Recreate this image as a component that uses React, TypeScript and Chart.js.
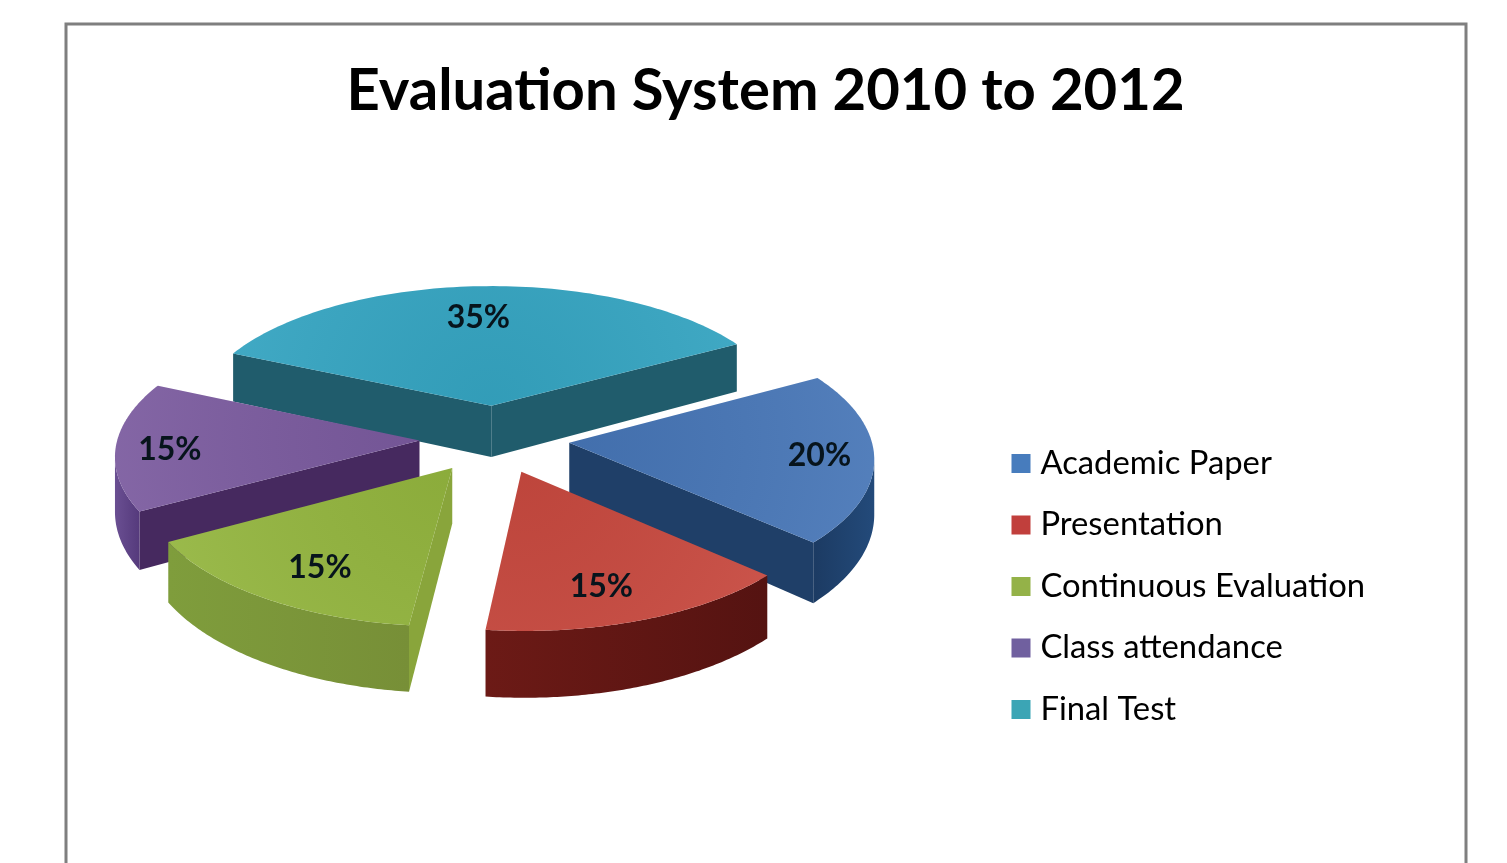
import { useEffect, useRef } from "react";
import { Chart, registerables } from "chart.js";

Chart.register(...registerables);

const titleText = "Evaluation System 2010 to 2012";
const categories = ["Academic Paper", "Presentation", "Continuous Evaluation", "Class attendance", "Final Test"];
const shares = [20, 15, 15, 15, 35];

const topColors = ["#4675b6", "#c8493f", "#93b53e", "#7a5a9e", "#35a5c2"];
const cutFaceColors = ["#1f3f68", "#6a1a15", "#89a53b", "#46295f", "#205c6c"];
const rimLeftColors = ["#1c3b63", "#6c1a16", "#7f9d3c", "#6a4f92", "#205c6c"];
const rimRightColors = ["#234a7a", "#551311", "#778f37", "#553a7c", "#205c6c"];
const legendColors = ["#477cbd", "#c13f3c", "#94b248", "#70609f", "#3ba5b5"];
const labelRadius = [0.822, 0.77, 0.757, 0.822, 0.735];
const labelTurn = [-1, 2.8, -2.2, -1.3, -1.2];

// Tilted-pie view settings
const centerX = 494.5;
const centerY = 439;
const squash = 0.4544;
const perspective = 0.000319;
const thickness = 53.5;
const FRAME = { left: 66, top: 24, right: 1466, bottom: 900 };

type Pt = { x: number; y: number };

function project(wx: number, wy: number, drop: number): Pt {
  const s = 1 / (1 - perspective * wy);
  return {
    x: centerX + wx * s,
    y: centerY + squash * wy * s + drop * thickness * Math.pow(s, 1.76),
  };
}

function fillPoly(ctx: CanvasRenderingContext2D, pts: Pt[], color: any) {
  ctx.beginPath();
  pts.forEach((p, i) => (i ? ctx.lineTo(p.x, p.y) : ctx.moveTo(p.x, p.y)));
  ctx.closePath();
  ctx.fillStyle = color;
  ctx.fill();
}

const tiltedPie = {
  id: "tiltedPie",
  beforeDraw(chart: any) {
    const { ctx } = chart;
    ctx.save();
    ctx.fillStyle = "#ffffff";
    ctx.fillRect(0, 0, chart.width, chart.height);
    ctx.strokeStyle = "#7f7f7f";
    ctx.lineWidth = 3;
    ctx.strokeRect(FRAME.left, FRAME.top, FRAME.right - FRAME.left, FRAME.bottom - FRAME.top);
    ctx.restore();
  },
  afterLayout(chart: any) {
    // The key column sits apart from the plot, low on the right
    const legend = chart.legend;
    const pad = legend.options.labels.padding;
    legend.left = 1018 - pad;
    legend.right = legend.left + legend.width;
    legend.top = 447 - pad;
    legend.bottom = legend.top + legend.height;
  },
  beforeDatasetDraw(chart: any, args: any) {
    const { ctx } = chart;
    const arcs = args.meta.data;
    const slices = arcs.map((arc: any, index: number) => {
      const mid = (arc.startAngle + arc.endAngle) / 2;
      const off = arc.options.offset;
      return { index, arc, mid, ox: Math.cos(mid) * off, oy: Math.sin(mid) * off };
    });
    slices.sort((a: any, b: any) => a.oy - b.oy);

    ctx.save();
    for (const s of slices) {
      const { arc, ox, oy, index } = s;
      const R = arc.outerRadius;
      const steps = 90;
      const ring: Array<[number, number]> = [];
      for (let i = 0; i <= steps; i++) {
        const a = arc.startAngle + ((arc.endAngle - arc.startAngle) * i) / steps;
        ring.push([ox + R * Math.cos(a), oy + R * Math.sin(a)]);
      }
      const apex: [number, number] = [ox, oy];
      const at = (p: [number, number], drop: number) => project(p[0], p[1], drop);

      // A cut face shows only when its edge runs leftwards on screen
      const cutFace = (from: [number, number], to: [number, number]) => {
        const a = at(from, 0);
        const b = at(to, 0);
        if (b.x - a.x >= 0) return;
        fillPoly(ctx, [a, b, at(to, 1), at(from, 1)], cutFaceColors[index]);
      };
      cutFace(apex, ring[0]);
      cutFace(ring[steps], apex);

      // The visible stretch of the curved rim
      let run: Array<[number, number]> = [];
      const flush = () => {
        if (run.length > 1) {
          const upper = run.map((p) => at(p, 0));
          const lower = run.map((p) => at(p, 1)).reverse();
          const xs = upper.map((p) => p.x);
          const grad = ctx.createLinearGradient(Math.min(...xs), 0, Math.max(...xs), 0);
          grad.addColorStop(0, rimLeftColors[index]);
          grad.addColorStop(1, rimRightColors[index]);
          fillPoly(ctx, [...upper, ...lower], grad);
        }
        run = [];
      };
      for (let i = 0; i < steps; i++) {
        if (at(ring[i + 1], 0).x - at(ring[i], 0).x < 0) {
          if (!run.length) run.push(ring[i]);
          run.push(ring[i + 1]);
        } else flush();
      }
      flush();

      const top = [at(apex, 0), ...ring.map((p) => at(p, 0))];
      fillPoly(ctx, top, arc.options.backgroundColor);
      const hub = at(apex, 0);
      const glow = ctx.createRadialGradient(hub.x, hub.y, 0, hub.x, hub.y, R);
      glow.addColorStop(0, "rgba(0,0,0,0.05)");
      glow.addColorStop(1, "rgba(255,255,255,0.07)");
      fillPoly(ctx, top, glow);
    }

    // Percentage labels on the top faces
    ctx.font = "bold 32px Lato";
    ctx.fillStyle = "#07141c";
    ctx.textAlign = "center";
    ctx.textBaseline = "middle";
    for (const s of slices) {
      const r = s.arc.outerRadius * labelRadius[s.index];
      const a = s.mid + (labelTurn[s.index] * Math.PI) / 180;
      const p = project(s.ox + r * Math.cos(a), s.oy + r * Math.sin(a), 0);
      ctx.fillText(`${shares[s.index]}%`, p.x, p.y + 1.5);
    }
    ctx.restore();
    return false;
  },
};

export default function App() {
  const ref = useRef<HTMLCanvasElement>(null);
  useEffect(() => {
    const chart = new Chart(ref.current!, {
      type: "pie",
      data: {
        labels: categories,
        datasets: [{ data: shares, backgroundColor: topColors, offset: 75, borderWidth: 0 }],
      },
      options: {
        animation: false,
        responsive: false,
        events: [],
        rotation: 60.5,
        radius: 302,
        layout: { padding: { left: 65, right: 41, top: 56, bottom: 0 } },
        plugins: {
          title: {
            display: true,
            text: titleText,
            color: "#000000",
            font: { family: "Lato", size: 58, weight: "bold" },
            padding: { top: 0, bottom: 10 },
          },
          legend: {
            position: "right",
            align: "start",
            labels: {
              color: "#111111",
              font: { family: "Lato", size: 32.8 },
              padding: 28.7,
              boxWidth: 6,
              boxHeight: 6,
              generateLabels: () =>
                categories.map((text, i) => ({
                  text,
                  fillStyle: legendColors[i],
                  strokeStyle: legendColors[i],
                  lineWidth: 13,
                  index: i,
                })),
            },
          },
          tooltip: { enabled: false },
        },
      } as any,
      plugins: [tiltedPie],
    });
    return () => chart.destroy();
  }, []);
  return (
    <div style={{ position: "fixed", left: 0, top: 0, width: 1507, height: 863, overflow: "hidden" }}>
      <canvas ref={ref} width={1507} height={863} style={{ display: "block" }} />
    </div>
  );
}
